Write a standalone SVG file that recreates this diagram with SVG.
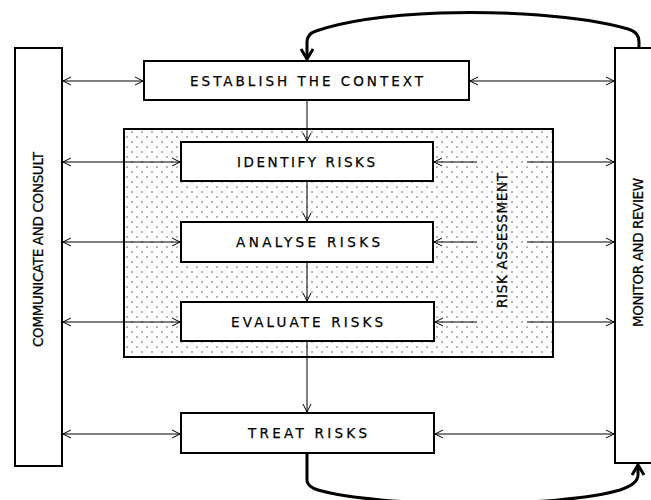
<svg xmlns="http://www.w3.org/2000/svg" width="651" height="500" viewBox="0 0 651 500">
<style>
.box{fill:#fff;stroke:#000;stroke-width:2}
.lbl{font-family:"DejaVu Sans","Liberation Sans",Arial,sans-serif;font-size:13.5px;fill:#000;stroke:#000;stroke-width:0.25;text-anchor:middle}
.ln{fill:none;stroke:#000;stroke-width:1}
.thick{fill:none;stroke:#000;stroke-width:3}
</style>
<defs>
<pattern id="dots" width="10" height="10" patternUnits="userSpaceOnUse">
<rect width="10" height="10" fill="#fff"/>
<circle cx="2" cy="2" r="0.7" fill="#333"/>
<circle cx="7" cy="7" r="0.7" fill="#333"/>
</pattern>
<marker id="a" markerUnits="userSpaceOnUse" markerWidth="12" markerHeight="12" refX="9" refY="5" orient="auto-start-reverse">
<path d="M1,1 L9,5 L1,9" fill="none" stroke="#000" stroke-width="1"/>
</marker>
<marker id="b" markerUnits="userSpaceOnUse" markerWidth="16" markerHeight="16" refX="12" refY="7" orient="auto">
<path d="M2,1 L12,7 L2,13" fill="none" stroke="#000" stroke-width="3"/>
</marker>
</defs>

<g id="risk-assessment">
<rect x="124" y="129" width="429" height="228" fill="url(#dots)" stroke="#000" stroke-width="2"/>
<text class="lbl" transform="translate(507,240.5) rotate(-90)" textLength="135" lengthAdjust="spacing">RISK ASSESSMENT</text>
</g>

<g id="communicate">
<rect class="box" x="15" y="48" width="47" height="418"/>
<text class="lbl" transform="translate(43,249.5) rotate(-90)" textLength="195" lengthAdjust="spacing">COMMUNICATE AND CONSULT</text>
</g>

<g id="monitor">
<path d="M651,48 L615,48 L615,463 L651,463" fill="#fff" stroke="#000" stroke-width="2"/>
<text class="lbl" transform="translate(643,252.5) rotate(-90)" textLength="149" lengthAdjust="spacing">MONITOR AND REVIEW</text>
</g>

<g id="establish">
<rect class="box" x="144" y="61" width="325" height="39"/>
<text class="lbl" x="306.5" y="86" textLength="233" lengthAdjust="spacing">ESTABLISH THE CONTEXT</text>
</g>

<g id="identify">
<rect class="box" x="181" y="142" width="252" height="39"/>
<text class="lbl" x="306" y="167" textLength="138" lengthAdjust="spacing">IDENTIFY RISKS</text>
</g>

<g id="analyse">
<rect class="box" x="181" y="222" width="252" height="40"/>
<text class="lbl" x="308" y="247" textLength="144" lengthAdjust="spacing">ANALYSE RISKS</text>
</g>

<g id="evaluate">
<rect class="box" x="181" y="302" width="253" height="39"/>
<text class="lbl" x="307" y="327" textLength="152" lengthAdjust="spacing">EVALUATE RISKS</text>
</g>

<g id="treat">
<rect class="box" x="181" y="413" width="253" height="40"/>
<text class="lbl" x="307.5" y="438" textLength="119" lengthAdjust="spacing">TREAT RISKS</text>
</g>

<g id="connectors">
<line class="ln" x1="307" y1="101" x2="307" y2="141" marker-end="url(#a)"/>
<line class="ln" x1="307" y1="182" x2="307" y2="221" marker-end="url(#a)"/>
<line class="ln" x1="307" y1="263" x2="307" y2="301" marker-end="url(#a)"/>
<line class="ln" x1="307" y1="342" x2="307" y2="412" marker-end="url(#a)"/>

<line class="ln" x1="63" y1="81" x2="143" y2="81" marker-start="url(#a)" marker-end="url(#a)"/>
<line class="ln" x1="63" y1="162" x2="180" y2="162" marker-start="url(#a)" marker-end="url(#a)"/>
<line class="ln" x1="63" y1="242" x2="180" y2="242" marker-start="url(#a)" marker-end="url(#a)"/>
<line class="ln" x1="63" y1="322" x2="180" y2="322" marker-start="url(#a)" marker-end="url(#a)"/>
<line class="ln" x1="63" y1="434" x2="180" y2="434" marker-start="url(#a)" marker-end="url(#a)"/>

<line class="ln" x1="470" y1="81" x2="614" y2="81" marker-start="url(#a)" marker-end="url(#a)"/>
<line class="ln" x1="477" y1="162" x2="434" y2="162" marker-end="url(#a)"/>
<line class="ln" x1="527" y1="162" x2="614" y2="162" marker-end="url(#a)"/>
<line class="ln" x1="477" y1="242" x2="434" y2="242" marker-end="url(#a)"/>
<line class="ln" x1="527" y1="242" x2="614" y2="242" marker-end="url(#a)"/>
<line class="ln" x1="477" y1="322" x2="435" y2="322" marker-end="url(#a)"/>
<line class="ln" x1="527" y1="322" x2="614" y2="322" marker-end="url(#a)"/>
<line class="ln" x1="435" y1="434" x2="614" y2="434" marker-start="url(#a)" marker-end="url(#a)"/>

<path class="thick" d="M639,48 L639,42 Q639,32 628,29 C580,15 500,11 440,13 C390,15 345,21 316,31 Q307,34 307,42 L307,59" marker-end="url(#b)"/>
<path class="thick" d="M307,454 L307,481 Q308,487 318,490 C380,508 560,508 620,490 Q638,484 638,475 L638,465" marker-end="url(#b)"/>
</g>
</svg>
